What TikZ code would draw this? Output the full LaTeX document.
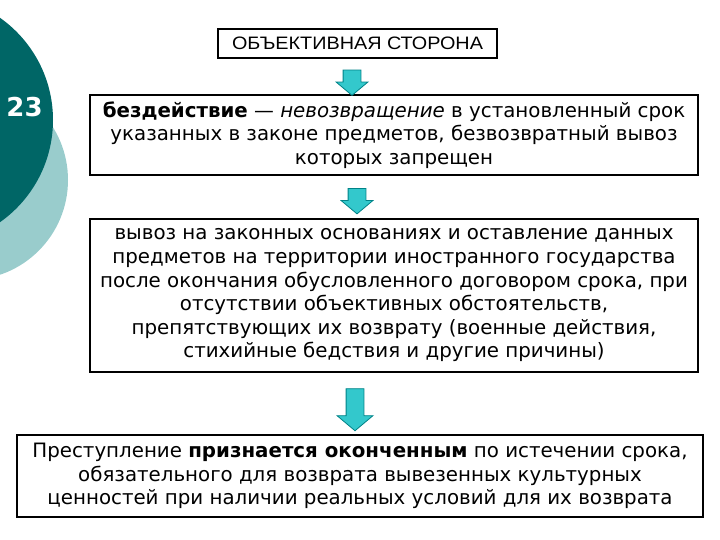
\documentclass[tikz,border=0pt]{standalone}
\usepackage{fontspec}
\setmainfont{DejaVu Sans}
\newfontfamily\titlefont[FakeStretch=1.1]{Liberation Sans}
\usetikzlibrary{shapes.arrows,positioning}
\definecolor{tealdark}{RGB}{0,102,102}
\definecolor{teallight}{RGB}{153,204,204}
\definecolor{arrowfill}{RGB}{51,200,204}
\definecolor{arrowedge}{RGB}{0,130,135}

\begin{document}
\begin{tikzpicture}[x=1pt, y=-1pt,
      titlebox/.style={draw, line width=1.2pt, minimum width=279pt, minimum height=29pt, inner sep=0pt, font=\titlefont\fontsize{18}{21}\selectfont},
      textbox/.style={draw, line width=1.8pt, align=center, inner sep=0pt, font=\fontsize{19.8}{23.6}\selectfont, execute at begin node={\rule{0pt}{27pt}}},
      downarrow/.style={single arrow, draw=arrowedge, fill=arrowfill, line width=0.8pt, shape border rotate=270, inner sep=8.5pt, single arrow head extend=7pt, single arrow tip angle=100, minimum width=31pt}
    ]
    \useasboundingbox (0,0) rectangle (720,540);
    \fill[teallight] (-32,180) circle (100);
    \fill[tealdark] (-72,120) circle (125);
    \node[text=white, font=\bfseries\fontsize{26}{30}\selectfont] (slidenum) at (24.5,107) {23};

    \node[titlebox] (side) at (357.5,43.5) {ОБЪЕКТИВНАЯ СТОРОНА};
    \node[textbox, minimum width=608pt, minimum height=80pt] (inaction) at (394,135)
      {\textbf{бездействие} — \textit{невозвращение} в установленный срок\\
       указанных в законе предметов, безвозвратный вывоз\\
       которых запрещен};
    \node[textbox, minimum width=608pt, minimum height=153pt] (legalexport) at (394,295.5)
      {вывоз на законных основаниях и оставление данных\\
       предметов на территории иностранного государства\\
       после окончания обусловленного договором срока, при\\
       отсутствии объективных обстоятельств,\\
       препятствующих их возврату (военные действия,\\
       стихийные бедствия и другие причины)};
    \node[textbox, minimum width=686pt, minimum height=82pt] (finished) at (360,476)
      {Преступление \textbf{признается оконченным} по истечении срока,\\
       обязательного для возврата вывезенных культурных\\
       ценностей при наличии реальных условий для их возврата};

    \node[downarrow, minimum height=22pt] (arrowa) at (352,79) {};
    \node[downarrow, minimum height=21pt] (arrowb) at (357,197.5) {};
    \node[downarrow, minimum height=42pt, minimum width=34pt, single arrow head extend=9pt] (arrowc) at (355,406) {};
  \end{tikzpicture}
\end{document}
